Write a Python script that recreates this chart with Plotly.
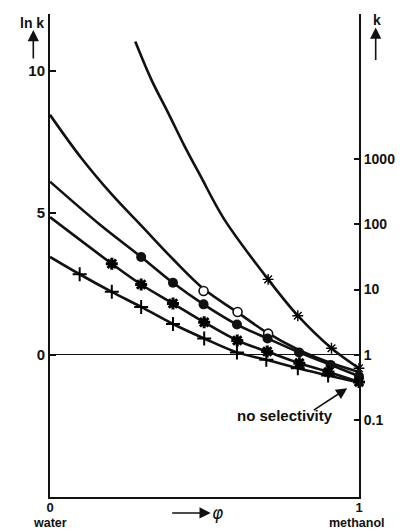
import numpy as np
import plotly.graph_objects as go

# ---- data (phi = volume fraction methanol, ln k) ----
phi_A = [0.276, 0.328, 0.382, 0.435, 0.487, 0.563, 0.706, 0.802, 0.911, 1.0]
lnk_A = [11.03, 9.69, 8.53, 7.36, 6.30, 4.79, 2.66, 1.38, 0.235, -0.47]
mphi_A = [0.706, 0.802, 0.911, 1.0]
mlnk_A = [2.66, 1.38, 0.235, -0.47]

phi_B = [0.0, 0.1, 0.2, 0.3, 0.4, 0.5, 0.6, 0.7, 0.8, 0.9, 1.0]
lnk_B = [8.45, 6.95, 5.65, 4.5, 3.35, 2.3, 1.55, 0.8, 0.2, -0.25, -0.6]
mphi_B = [0.497, 0.607, 0.706]
mlnk_B = [2.25, 1.51, 0.75]

phi_C = [0.0, 0.159, 0.295, 0.398, 0.497, 0.605, 0.704, 0.806, 0.908, 1.0]
lnk_C = [6.1, 4.61, 3.45, 2.54, 1.78, 1.07, 0.58, 0.09, -0.35, -0.75]
mphi_C = [0.295, 0.398, 0.497, 0.605, 0.704, 0.806, 0.908, 1.0]
mlnk_C = [3.45, 2.54, 1.78, 1.07, 0.58, 0.09, -0.35, -0.75]

phi_D = [0.0, 0.2, 0.295, 0.398, 0.499, 0.606, 0.703, 0.807, 0.901, 1.0]
lnk_D = [4.85, 3.21, 2.48, 1.81, 1.15, 0.51, 0.12, -0.29, -0.6, -0.95]
mphi_D = [0.2, 0.295, 0.398, 0.499, 0.606, 0.703, 0.807, 0.901, 1.0]
mlnk_D = [3.21, 2.48, 1.81, 1.15, 0.51, 0.12, -0.29, -0.6, -0.95]

phi_E = [0.0, 0.096, 0.2, 0.295, 0.398, 0.499, 0.605, 0.70, 0.802, 0.9, 1.0]
lnk_E = [3.45, 2.84, 2.22, 1.69, 1.09, 0.58, 0.09, -0.17, -0.47, -0.72, -0.97]
mphi_E = [0.096, 0.2, 0.295, 0.398, 0.499, 0.605, 0.70, 0.802, 0.9]
mlnk_E = [2.84, 2.22, 1.69, 1.09, 0.58, 0.09, -0.17, -0.47, -0.72]

left_ticks = [0, 5, 10]
k_ticks = [1000, 100, 10, 1, 0.1]
k_labels = ["1000", "100", "10", "1", "0.1"]
x_ticks = [0, 1]
x_labels = ["0", "1"]

FONT = "Liberation Sans"
BLACK = "#111"

fig = go.Figure()

def curve(px, py):
    fig.add_trace(go.Scatter(x=px, y=py, mode="lines", line=dict(color=BLACK, width=2.6, shape="spline", smoothing=1.0),
                             showlegend=False, hoverinfo="skip"))

def marks(px, py, symbol, size, color="black", lw=1.5, lc=BLACK):
    fig.add_trace(go.Scatter(x=px, y=py, mode="markers", cliponaxis=False,
                             marker=dict(symbol=symbol, size=size, color=color, line=dict(color=lc, width=lw)),
                             showlegend=False, hoverinfo="skip"))

for px, py in [(phi_A, lnk_A), (phi_B, lnk_B), (phi_C, lnk_C), (phi_D, lnk_D), (phi_E, lnk_E)]:
    curve(px, py)

marks(mphi_A, mlnk_A, "asterisk-open", 9, lw=1.4)
marks(mphi_B, mlnk_B, "circle", 9, color="white", lw=1.6)
marks(mphi_C, mlnk_C, "circle", 10, color=BLACK, lw=0)
marks(mphi_D, mlnk_D, "asterisk-open", 10, lw=3)
marks(mphi_E, mlnk_E, "cross-thin-open", 10, lw=2.0)

ann = []
def txt(text, x, y, size=14, xanchor="center", yanchor="middle", xref="paper", yref="paper", **kw):
    ann.append(dict(text=text, x=x, y=y, xref=xref, yref=yref, showarrow=False, xanchor=xanchor, yanchor=yanchor,
                    font=dict(family=FONT, size=size, color=BLACK, weight="bold"), **kw))

def arrow(x, y, ax, ay, xref="paper", yref="paper"):
    ann.append(dict(text="", x=x, y=y, xref=xref, yref=yref, ax=ax, ay=ay, showarrow=True,
                    arrowhead=2, arrowsize=1.4, arrowwidth=1.6, arrowcolor=BLACK))

# top labels
txt("ln k", 0, 1, size=14, xanchor="right", yanchor="top", xshift=-4, yshift=1)
arrow(-0.054, 0.967, 0, 30)
txt("k", 1.057, 0.988, size=14)
arrow(1.054, 0.972, 0, 34)
# bottom labels
txt("water", 0, -0.053, size=12.5, xref="x", yanchor="middle")
txt("methanol", 0.994, -0.054, size=12.5, yanchor="middle")
arrow(0.52, -0.033, -40, 0)
ann.append(dict(text="<i>φ</i>", x=0.545, y=-0.033, xref="paper", yref="paper", showarrow=False,
                font=dict(family="DejaVu Sans", size=17, color=BLACK), xanchor="center", yanchor="middle"))
# no selectivity
txt("no selectivity", 0.76, 0.168, size=15)
arrow(0.962, -1.17, -35, 23, xref="x", yref="y")

fig.update_layout(
    width=407, height=531,
    margin=dict(l=50, r=43, t=14, b=34),
    paper_bgcolor="white", plot_bgcolor="white",
    showlegend=False,
    annotations=ann,
    xaxis=dict(range=[0, 1], showgrid=False, zeroline=False, showline=True, linecolor=BLACK, linewidth=2,
               tickvals=x_ticks, ticktext=x_labels, ticks="", ticklabelstandoff=-3,
               tickfont=dict(family=FONT, size=13, color=BLACK, weight="bold")),
    yaxis=dict(range=[-5, 12], showgrid=False, zeroline=True, zerolinecolor=BLACK, zerolinewidth=1,
               showline=True, linecolor=BLACK, linewidth=2, tickvals=left_ticks, ticks="inside", ticklen=6,
               tickwidth=2, tickcolor=BLACK, tickfont=dict(family=FONT, size=15, color=BLACK, weight="bold")),
    yaxis2=dict(range=[-5, 12], overlaying="y", side="right", showgrid=False, zeroline=False,
                showline=True, linecolor=BLACK, linewidth=2, tickvals=list(np.log(k_ticks)), ticktext=k_labels,
                ticks="inside", ticklen=5, tickwidth=2, tickcolor=BLACK,
                tickfont=dict(family=FONT, size=14, color=BLACK, weight="bold")),
)
# invisible trace so the right axis is drawn
fig.add_trace(go.Scatter(x=[0], y=[0], yaxis="y2", mode="markers", marker=dict(opacity=0), showlegend=False,
                         hoverinfo="skip"))

fig.write_html("out.html")
